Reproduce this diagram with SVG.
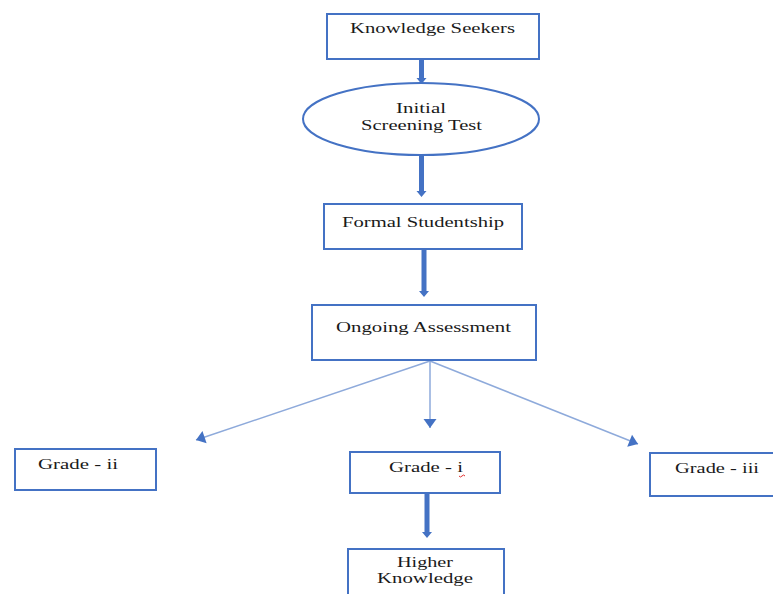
<svg xmlns="http://www.w3.org/2000/svg" width="773" height="594" viewBox="0 0 773 594">
<style>
.box{fill:#fff;stroke:#4472C4;stroke-width:2}
.t{font-family:"Liberation Serif","Times New Roman",serif;font-size:15px;fill:#1a1a1a}
.thick{fill:#4472C4;stroke:none}
.thin{stroke:#8EAADB;stroke-width:1.5;fill:none}
</style>
<defs>
<marker id="ht" markerUnits="userSpaceOnUse" markerWidth="10" markerHeight="14" refX="0" refY="0" orient="auto" viewBox="-9 -7 10 14" overflow="visible">
<path d="M-9,-6.5 L0,0 L-9,6.5 Z" fill="#4472C4"/>
</marker>
</defs>
<rect width="773" height="594" fill="#fff"/>
<g id="connectors">
<path class="thick" d="M419,60 H424 V78 H426.5 L421.5,84 L416.5,78 H419 Z"/>
<path class="thick" d="M419,156 H424 V191 H426.5 L421.5,197 L416.5,191 H419 Z"/>
<path class="thick" d="M421.5,250 H426.5 V291 H429 L424,297 L419,291 H421.5 Z"/>
<path class="thick" d="M424.5,494 H429.5 V532 H432 L427,538 L422,532 H424.5 Z"/>
<line class="thin" x1="430" y1="361" x2="196" y2="440" marker-end="url(#ht)"/>
<line class="thin" x1="430" y1="361" x2="430" y2="428" marker-end="url(#ht)"/>
<line class="thin" x1="430" y1="361" x2="638" y2="444" marker-end="url(#ht)"/>
</g>
<g id="knowledge-seekers">
<rect class="box" x="327" y="14" width="212" height="45"/>
<text class="t" x="350" y="33" textLength="165" lengthAdjust="spacingAndGlyphs">Knowledge Seekers</text>
</g>
<g id="initial-screening">
<ellipse class="box" cx="421" cy="119" rx="118" ry="36"/>
<text class="t" x="396" y="113" textLength="50" lengthAdjust="spacingAndGlyphs">Initial</text>
<text class="t" x="361" y="130" textLength="121" lengthAdjust="spacingAndGlyphs">Screening Test</text>
</g>
<g id="formal-studentship">
<rect class="box" x="324" y="204" width="198" height="45"/>
<text class="t" x="342" y="227" textLength="162" lengthAdjust="spacingAndGlyphs">Formal Studentship</text>
</g>
<g id="ongoing-assessment">
<rect class="box" x="312" y="305" width="224" height="55"/>
<text class="t" x="336" y="332" textLength="175" lengthAdjust="spacingAndGlyphs">Ongoing Assessment</text>
</g>
<g id="grade-ii">
<rect class="box" x="15" y="449" width="141" height="41"/>
<text class="t" x="38" y="469" textLength="80" lengthAdjust="spacingAndGlyphs">Grade - ii</text>
</g>
<g id="grade-i">
<rect class="box" x="350" y="452" width="150" height="41"/>
<text class="t" x="389" y="472" textLength="74" lengthAdjust="spacingAndGlyphs">Grade - i</text>
<path d="M459,476 q1.5,2 3,0 t3,0" stroke="#e03030" stroke-width="1" fill="none"/>
</g>
<g id="grade-iii">
<rect class="box" x="650" y="453" width="132" height="43"/>
<text class="t" x="675" y="473" textLength="84" lengthAdjust="spacingAndGlyphs">Grade - iii</text>
</g>
<g id="higher-knowledge">
<rect class="box" x="348" y="549" width="156" height="60"/>
<text class="t" x="397" y="567" textLength="56" lengthAdjust="spacingAndGlyphs">Higher</text>
<text class="t" x="377" y="583" textLength="96" lengthAdjust="spacingAndGlyphs">Knowledge</text>
</g>
</svg>
